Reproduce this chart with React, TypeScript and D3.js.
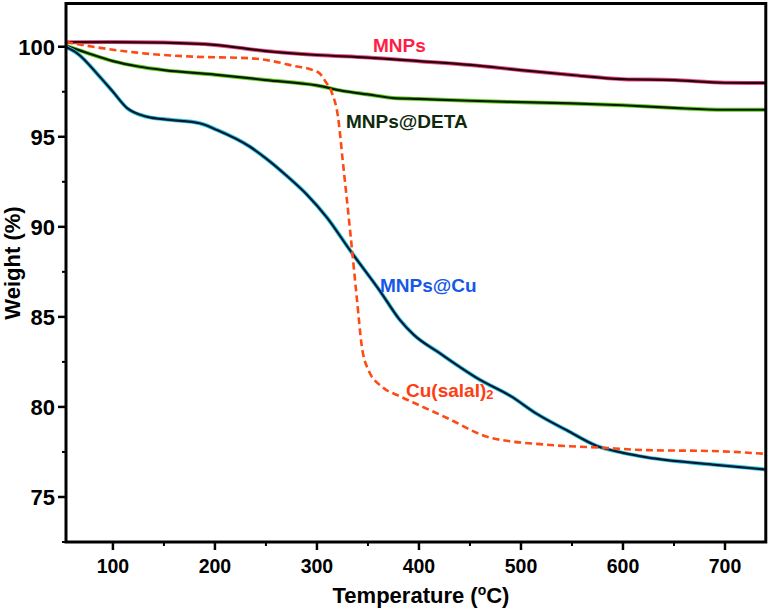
import React from "react";
import * as d3 from "d3";

const xTicks = [100, 200, 300, 400, 500, 600, 700];
const xMinor = [150, 250, 350, 450, 550, 650];
const yTicks = [75, 80, 85, 90, 95, 100];
const yMinor = [72.5, 77.5, 82.5, 87.5, 92.5, 97.5];

const tMNPs = [54, 100, 150, 200, 250, 300, 350, 400, 450, 500, 550, 600, 650, 700, 740];
const wMNPs = [100.25, 100.26, 100.23, 100.1, 99.76, 99.54, 99.4, 99.2, 98.99, 98.7, 98.43, 98.2, 98.15, 98.0, 97.99];

const tDETA = [54, 62, 75, 100, 125, 150, 200, 250, 300, 325, 350, 375, 400, 450, 500, 550, 600, 650, 700, 740];
const wDETA = [100.05, 99.9, 99.65, 99.2, 98.9, 98.7, 98.45, 98.15, 97.85, 97.55, 97.35, 97.15, 97.1, 97.0, 96.92, 96.85, 96.75, 96.6, 96.5, 96.5];

const tCu = [54, 64.7, 87, 100, 113.7, 133, 156, 185, 202, 234, 250, 270, 290, 310, 332, 362, 381, 395, 420, 460, 490, 516, 545, 574.5, 600, 623.5, 688, 739];
const wCu = [99.98, 99.65, 98.34, 97.5, 96.6, 96.12, 95.94, 95.75, 95.38, 94.46, 93.8, 92.85, 91.8, 90.5, 88.73, 86.42, 84.85, 84.0, 83.0, 81.5, 80.6, 79.6, 78.7, 77.83, 77.45, 77.2, 76.8, 76.53];

const tSalal = [54, 80.4, 123.5, 178, 234, 266.7, 276, 296, 303, 308, 314.7, 320.6, 325.5, 332.4, 339, 344, 350, 364.7, 381, 400, 427, 469.6, 525.5, 577.5, 623.5, 688, 739];
const wSalal = [100.26, 100.0, 99.67, 99.45, 99.36, 99.08, 98.95, 98.7, 98.5, 98.1, 97.43, 96.12, 93.55, 89.84, 86.1, 83.35, 82.1, 81.08, 80.6, 80.1, 79.4, 78.3, 77.9, 77.74, 77.6, 77.55, 77.4];

const FONT = "'Liberation Sans', Arial, Helvetica, sans-serif";

export default function App() {
  const left = 66, right = 765.8, top = 3.5, bottom = 542;
  const x = d3.scaleLinear().domain([54, 740]).range([left, right]);
  const y = d3.scaleLinear().domain([72.5, 102.4]).range([bottom, top]);
  const line = d3
    .line<[number, number]>()
    .x((d) => x(d[0]))
    .y((d) => y(d[1]))
    .curve(d3.curveMonotoneX);
  const mk = (t: number[], w: number[]) => line(t.map((v, i) => [v, w[i]] as [number, number])) || "";

  const pM = mk(tMNPs, wMNPs);
  const pD = mk(tDETA, wDETA);
  const pC = mk(tCu, wCu);
  const pS = mk(tSalal, wSalal);

  return (
    <svg
      width={772}
      height={608}
      style={{ position: "absolute", left: 0, top: 0, background: "#fff" }}
      fontFamily={FONT}
    >
      <rect x={0} y={0} width={772} height={608} fill="#fff" />
      <defs>
        <clipPath id="plot">
          <rect x={left} y={top} width={right - left} height={bottom - top} />
        </clipPath>
      </defs>
      <g clipPath="url(#plot)" fill="none" strokeLinejoin="round">
        <path d={pM} stroke="#e8507e" strokeWidth={4} />
        <path d={pM} stroke="#2a0010" strokeWidth={2.2} />
        <path d={pD} stroke="#5fd020" strokeWidth={4} />
        <path d={pD} stroke="#0c1a06" strokeWidth={2.2} />
        <path d={pC} stroke="#30c8d8" strokeWidth={4} />
        <path d={pC} stroke="#0a1838" strokeWidth={2.2} />
        <path d={pS} stroke="#ff4a14" strokeWidth={2.6} strokeDasharray="7,4" />
      </g>
      {/* frame */}
      <rect x={left} y={top} width={right - left} height={bottom - top} fill="none" stroke="#000" strokeWidth={3} />
      {/* y ticks */}
      {yTicks.map((v) => (
        <g key={"y" + v}>
          <line x1={left - 8} x2={left} y1={y(v)} y2={y(v)} stroke="#000" strokeWidth={2.5} />
          <text x={55} y={y(v)} dy="0.36em" textAnchor="end" fontSize={22} fontWeight="bold">
            {v}
          </text>
        </g>
      ))}
      {yMinor.map((v) => (
        <line key={"ym" + v} x1={left - 4} x2={left} y1={y(v)} y2={y(v)} stroke="#000" strokeWidth={2} />
      ))}
      {/* x ticks */}
      {xTicks.map((v) => (
        <g key={"x" + v}>
          <line x1={x(v)} x2={x(v)} y1={bottom} y2={bottom + 8} stroke="#000" strokeWidth={2.5} />
          <text x={x(v)} y={573} textAnchor="middle" fontSize={19.5} fontWeight="bold">
            {v}
          </text>
        </g>
      ))}
      {xMinor.map((v) => (
        <line key={"xm" + v} x1={x(v)} x2={x(v)} y1={bottom} y2={bottom + 4} stroke="#000" strokeWidth={2} />
      ))}
      {/* axis titles */}
      <text x={421} y={603} textAnchor="middle" fontSize={22} fontWeight="bold">
        Temperature (<tspan fontSize={14} dy={-8}>o</tspan>
        <tspan dy={8}>C)</tspan>
      </text>
      <text
        transform="translate(20,263) rotate(-90)"
        textAnchor="middle"
        fontSize={22}
        fontWeight="bold"
      >
        Weight (%)
      </text>
      {/* series labels */}
      <text x={373} y={52} fontSize={19} fontWeight="bold" fill="#ff1e46">
        MNPs
      </text>
      <text x={346} y={128} fontSize={19} fontWeight="bold" fill="#0f2a0c">
        MNPs@DETA
      </text>
      <text x={380} y={291.5} fontSize={19} fontWeight="bold" fill="#1658e8">
        MNPs@Cu
      </text>
      <text x={406} y={396.5} fontSize={19} fill="#ff3c14" fontWeight={600}>
        Cu(salal)<tspan fontSize={13} dy={2}>2</tspan>
      </text>
    </svg>
  );
}
